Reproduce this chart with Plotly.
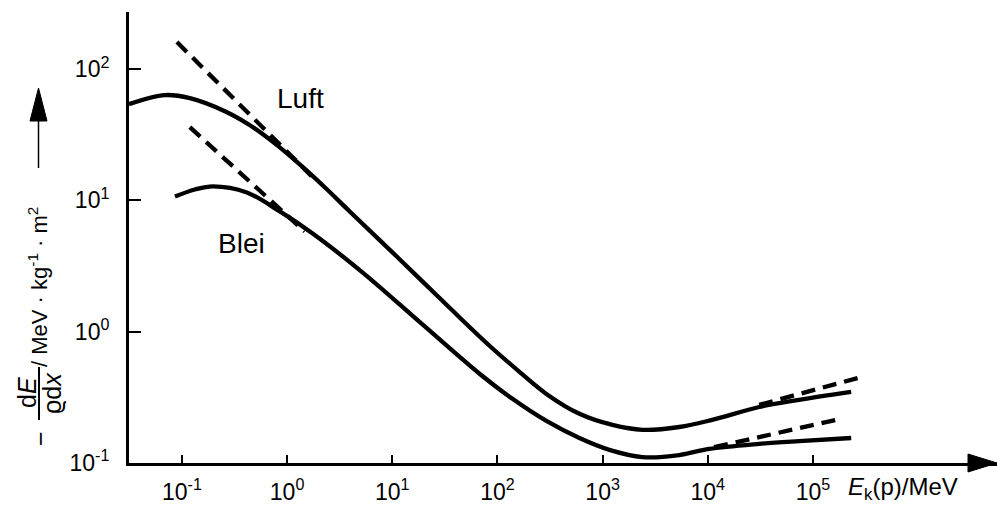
import plotly.graph_objects as go

# ---------------- data ----------------
# Luft (air), solid curve
luft_E = [0.0314, 0.069, 0.119, 0.256, 0.443, 0.764, 1.32, 2.28, 3.94, 11.8,
          35.1, 84.1, 162, 292, 602, 1240, 2390, 5360, 11000, 30800, 74000, 231000]
luft_S = [54.1, 63.4, 60.1, 47.8, 37.4, 27.2, 18.8, 12.6, 8.24, 3.55,
          1.52, 0.782, 0.495, 0.336, 0.237, 0.195, 0.179, 0.188, 0.213, 0.267, 0.303, 0.348]

# Blei (lead), solid curve
blei_E = [0.086, 0.133, 0.197, 0.414, 0.853, 1.75, 5.24, 19.5, 67.6, 139, 292,
          602, 1160, 2390, 5360, 10300, 30800, 74000, 231000]
blei_S = [10.7, 12.1, 12.8, 11.5, 8.24, 5.60, 2.82, 1.13, 0.478, 0.308, 0.209,
          0.155, 0.126, 0.111, 0.115, 0.128, 0.140, 0.147, 0.155]

# dashed asymptotes
luft_low_E = [0.0897, 1.83]
luft_low_S = [160.7, 14.5]
blei_low_E = [0.119, 1.47]
blei_low_S = [36.1, 5.8]
luft_high_E = [30800, 293000]
luft_high_S = [0.277, 0.453]
blei_high_E = [11500, 166000]
blei_high_S = [0.132, 0.213]

x_tickvals = [1e-1, 1e0, 1e1, 1e2, 1e3, 1e4, 1e5]
x_ticktext = ["10<sup>-1</sup>", "10<sup>0</sup>", "10<sup>1</sup>", "10<sup>2</sup>",
              "10<sup>3</sup>", "10<sup>4</sup>", "10<sup>5</sup>"]
y_tickvals = [1e-1, 1e0, 1e1, 1e2]
y_ticktext = ["10<sup>-1</sup>", "10<sup>0</sup>", "10<sup>1</sup>", "10<sup>2</sup>"]

curve_labels = ["Luft", "Blei"]
x_title = "<i>E</i><sub>k</sub>(p)/MeV"

# ---------------- layout geometry ----------------
W, H = 997, 514
ML, MR, MT, MB = 129, 0, 12, 51
PW, PH = W - ML - MR, H - MT - MB


def px(x):
    return (x - ML) / PW


def py(y):
    return (H - MB - y) / PH


FONT = "Liberation Sans, Arial, sans-serif"

fig = go.Figure()

solid = dict(color="black", width=4.3)
dashed = dict(color="black", width=4.3, dash="14px,8px")

for xs, ys in [(luft_E, luft_S), (blei_E, blei_S)]:
    fig.add_trace(go.Scatter(x=xs, y=ys, mode="lines",
                             line=dict(**solid, shape="spline", smoothing=1.0),
                             hoverinfo="skip"))
for xs, ys in [(luft_low_E, luft_low_S), (blei_low_E, blei_low_S),
               (luft_high_E, luft_high_S), (blei_high_E, blei_high_S)]:
    fig.add_trace(go.Scatter(x=xs, y=ys, mode="lines", line=dashed, hoverinfo="skip"))

fig.update_layout(
    width=W, height=H,
    margin=dict(l=ML, r=MR, t=MT, b=MB, pad=0),
    paper_bgcolor="white", plot_bgcolor="white",
    showlegend=False,
    font=dict(family=FONT, color="black", size=23),
    xaxis=dict(type="log", range=[-1.503, 6.75], showgrid=False, zeroline=False,
               showline=True, linecolor="black", linewidth=3,
               ticks="inside", ticklen=8, tickwidth=1.5, tickcolor="black",
               tickvals=x_tickvals, ticktext=x_ticktext,
               tickfont=dict(family=FONT, size=23, color="black"),
               ticklabelstandoff=6),
    yaxis=dict(type="log", range=[-1, 2.435], showgrid=False, zeroline=False,
               showline=True, linecolor="black", linewidth=3,
               ticks="inside", ticklen=12, tickwidth=1.5, tickcolor="black",
               tickvals=y_tickvals, ticktext=y_ticktext,
               tickfont=dict(family=FONT, size=23, color="black"),
               ticklabelstandoff=12),
)

shapes = []
# x-axis arrowhead
shapes.append(dict(type="path", xref="paper", yref="paper",
                   path=f"M {px(968)},{py(454)} L {px(997)},{py(463)} L {px(968)},{py(472)} Z",
                   fillcolor="black", line=dict(color="black", width=1)))
# y-label arrow line + head
shapes.append(dict(type="line", xref="paper", yref="paper",
                   x0=px(38.5), x1=px(38.5), y0=py(168), y1=py(118),
                   line=dict(color="black", width=1.5)))
shapes.append(dict(type="path", xref="paper", yref="paper",
                   path=f"M {px(30)},{py(121)} L {px(38.5)},{py(88)} L {px(47)},{py(121)} Z",
                   fillcolor="black", line=dict(color="black", width=1)))
# fraction bar of the y label
shapes.append(dict(type="line", xref="paper", yref="paper",
                   x0=px(39), x1=px(39), y0=py(367), y1=py(420),
                   line=dict(color="black", width=2)))
fig.update_layout(shapes=shapes)


def note(text, x, y, size, angle=0, xa="center", ya="middle"):
    return dict(text=text, x=px(x), y=py(y), xref="paper", yref="paper",
                xanchor=xa, yanchor=ya, textangle=angle, showarrow=False,
                font=dict(family=FONT, size=size, color="black"))


ann = [
    note(curve_labels[0], 300, 99, 28),
    note(curve_labels[1], 241, 243, 28),
    note(x_title, 846, 471, 24, xa="left", ya="top"),
    note("d<i>E</i>", 27, 393, 25, angle=-90),
    note("ϱd<i>x</i>", 52, 393, 25, angle=-90),
    note("−", 40, 439, 25, angle=-90),
    note("/ MeV · kg<sup>-1</sup> · m<sup>2</sup>", 38, 287, 22, angle=-90),
]
fig.update_layout(annotations=ann)

fig.write_html("out.html")
